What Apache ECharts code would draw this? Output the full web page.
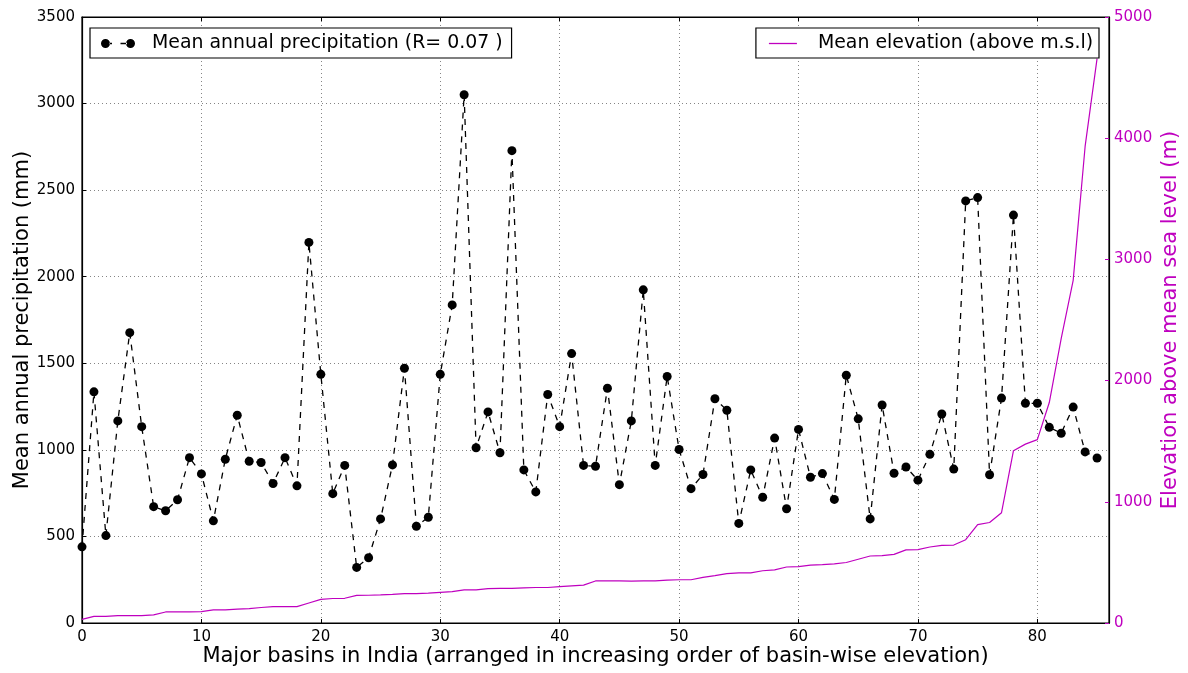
<!DOCTYPE html>
<html>
<head>
<meta charset="utf-8">
<script src="https://cdn.jsdelivr.net/npm/echarts@6/dist/echarts.min.js"></script>
<style>
  html, body { margin: 0; padding: 0; background: #fff; }
  #chart { width: 1188px; height: 673px; }
</style>
</head>
<body>
<div id="chart"></div>
<script>
// Mean annual precipitation (mm) per basin, basins ordered by mean elevation
const precipitation = [
  440, 1335, 505, 1167, 1677, 1134, 672, 648, 712, 955,
  861, 590, 946, 1200, 934, 927, 806, 955, 792, 2198,
  1436, 747, 910, 321, 377, 601, 913, 1471, 559, 611,
  1436, 1837, 3051, 1012, 1219, 983, 2728, 884, 757, 1320,
  1134, 1556, 910, 905, 1356, 799, 1167, 1924, 910, 1424,
  1002, 776, 858, 1295, 1229, 575, 884, 726, 1068, 660,
  1118, 842, 863, 714, 1431, 1179, 601, 1259, 865, 901,
  825, 974, 1207, 889, 2438, 2457, 856, 1299, 2356, 1269,
  1269, 1130, 1096, 1247, 988, 953
];

// Mean basin elevation above mean sea level (m)
const elevation = [
  30, 54, 54, 61, 61, 61, 67, 91, 91, 91,
  94, 108, 108, 115, 118, 128, 135, 135, 135, 165,
  195, 202, 204, 228, 229, 232, 236, 243, 243, 246,
  253, 259, 273, 273, 283, 286, 286, 290, 293, 293,
  300, 307, 313, 347, 347, 347, 346, 347, 347, 354,
  357, 357, 377, 391, 408, 414, 414, 431, 438, 462,
  465, 478, 482, 488, 499, 526, 553, 556, 566, 603,
  605, 627, 640, 643, 687, 812, 829, 910, 1422, 1476,
  1513, 1819, 2348, 2827, 3932, 4656
];

const xTicks = [0, 10, 20, 30, 40, 50, 60, 70, 80];
const precipTicks = [0, 500, 1000, 1500, 2000, 2500, 3000, 3500];
const elevTicks = [0, 1000, 2000, 3000, 4000, 5000];

const precipLabel = 'Mean annual precipitation (R= 0.07 )';
const elevLabel = 'Mean elevation (above m.s.l)';

const MAGENTA = '#bf00bf';
const FONT = 'DejaVu Sans';

// pair each value with its basin rank along the x axis
const toPoints = arr => arr.map((v, i) => [i, v]);

const chart = echarts.init(document.getElementById('chart'), null, { renderer: 'canvas' });

const gridLine = { show: true, lineStyle: { color: '#666', width: 0.8, type: [1, 3] } };
const frameLine = { show: true, onZero: false, lineStyle: { color: '#000', width: 1.2 } };

// legend symbols: two markers joined by a dash, and a plain line
const markerDashIcon = 'path://M0,4.5a4.5,4.5 0 1,0 9,0a4.5,4.5 0 1,0 -9,0Z' +
  'M8.5,3.8h2.5v1.4h-2.5Z M19.5,3.8h6.5v1.4h-6.5Z' +
  'M25,4.5a4.5,4.5 0 1,0 9,0a4.5,4.5 0 1,0 -9,0Z';
const plainLineIcon = 'path://M0,0h28v1.3h-28Z';

chart.setOption({
  animation: false,
  backgroundColor: '#fff',
  grid: {
    left: 82, right: 79, top: 17, bottom: 50,
    outerBoundsMode: 'none',
    show: true, borderColor: '#000', borderWidth: 1.2, containLabel: false
  },
  legend: [
    {
      data: [{ name: precipLabel, icon: markerDashIcon }],
      left: 90, top: 28,
      orient: 'horizontal',
      itemWidth: 34, itemHeight: 9,
      padding: [6, 9, 5, 11],
      borderColor: '#000', borderWidth: 1.2,
      backgroundColor: '#fff',
      textStyle: { fontFamily: FONT, fontSize: 18.9, color: '#000', padding: [0, 0, 0, 12] }
    },
    {
      data: [{ name: elevLabel, icon: plainLineIcon }],
      right: 89, top: 28,
      orient: 'horizontal',
      itemWidth: 28, itemHeight: 1.3,
      padding: [6, 6, 5, 13],
      borderColor: '#000', borderWidth: 1.2,
      backgroundColor: '#fff',
      textStyle: { fontFamily: FONT, fontSize: 18.9, color: '#000', padding: [0, 0, 0, 16] }
    }
  ],
  xAxis: [
    {
      type: 'value', min: 0, max: 86, interval: 10,
      name: 'Major basins in India (arranged in increasing order of basin-wise elevation)',
      nameLocation: 'middle', nameGap: 23, nameMoveOverlap: false,
      nameTextStyle: { fontFamily: FONT, fontSize: 21, color: '#000' },
      axisLine: frameLine,
      axisTick: { show: true, inside: true, length: 4, lineStyle: { color: '#000' } },
      axisLabel: {
        fontFamily: FONT, fontSize: 15, color: '#000', margin: 7,
        showMaxLabel: false,
        formatter: v => (xTicks.includes(v) ? String(v) : '')
      },
      splitLine: gridLine
    },
    {
      type: 'value', min: 0, max: 86, interval: 10, position: 'top',
      axisLine: frameLine,
      axisTick: { show: true, inside: true, length: 4, lineStyle: { color: '#000' } },
      axisLabel: { show: false },
      splitLine: { show: false }
    }
  ],
  yAxis: [
    {
      type: 'value', min: 0, max: 3500, interval: 500,
      position: 'left',
      name: 'Mean annual precipitation (mm)',
      nameLocation: 'middle', nameGap: 49, nameRotate: 90, nameMoveOverlap: false,
      nameTextStyle: { fontFamily: FONT, fontSize: 21, color: '#000' },
      axisLine: frameLine,
      axisTick: { show: true, inside: true, length: 4, lineStyle: { color: '#000' } },
      axisLabel: {
        fontFamily: FONT, fontSize: 15, color: '#000', margin: 7,
        formatter: v => (precipTicks.includes(v) ? String(v) : '')
      },
      splitLine: gridLine
    },
    {
      type: 'value', min: 0, max: 5000, interval: 1000,
      position: 'right',
      name: 'Elevation above mean sea level (m)',
      nameLocation: 'middle', nameGap: 51, nameRotate: 90, nameMoveOverlap: false,
      nameTextStyle: { fontFamily: FONT, fontSize: 21, color: MAGENTA },
      axisLine: frameLine,
      axisTick: { show: true, inside: true, length: 4, lineStyle: { color: MAGENTA } },
      axisLabel: {
        fontFamily: FONT, fontSize: 15, color: MAGENTA, margin: 5,
        formatter: v => (elevTicks.includes(v) ? String(v) : '')
      },
      splitLine: { show: false }
    }
  ],
  series: [
    {
      name: precipLabel,
      type: 'line',
      xAxisIndex: 0, yAxisIndex: 0,
      data: toPoints(precipitation),
      symbol: 'circle', symbolSize: 9,
      showSymbol: true,
      clip: true,
      itemStyle: { color: '#000' },
      lineStyle: { color: '#000', width: 1.3, type: [6, 6] },
      z: 3
    },
    {
      name: elevLabel,
      type: 'line',
      xAxisIndex: 0, yAxisIndex: 1,
      data: toPoints(elevation),
      symbol: 'none', showSymbol: false,
      clip: true,
      itemStyle: { color: MAGENTA },
      lineStyle: { color: MAGENTA, width: 1.2 },
      z: 2
    }
  ]
});
</script>
</body>
</html>
